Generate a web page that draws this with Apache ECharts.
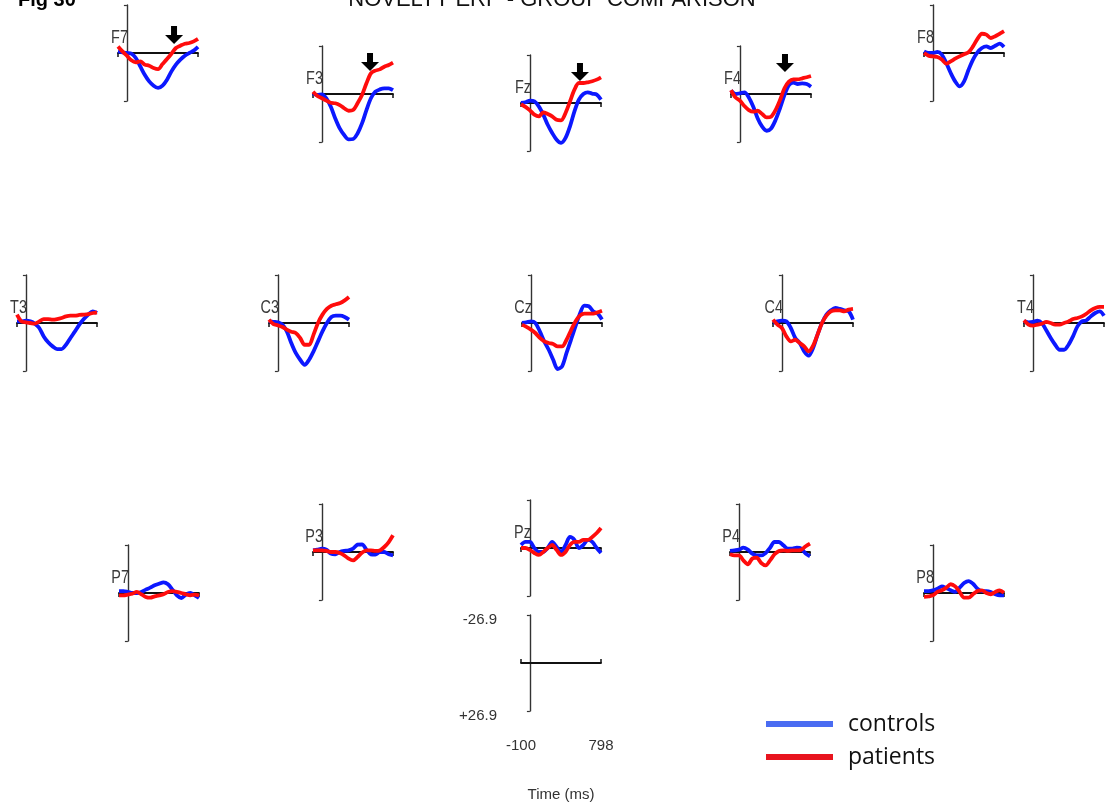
<!DOCTYPE html>
<html>
<head>
<meta charset="utf-8">
<script src="https://cdn.jsdelivr.net/npm/echarts@6/dist/echarts.min.js"></script>
<style>
  html, body { margin: 0; padding: 0; background: #ffffff; }
  #chart { width: 1114px; height: 811px; }
</style>
</head>
<body>
<div id="chart"></div>
<script>
// Sample times (ms) of every averaged waveform
const times = [-100, -50, 0, 50, 100, 150, 200, 250, 300, 350, 400, 450, 500, 550, 600, 650, 700, 750, 798];

// Group names
const groupNames = ['controls', 'patients'];

// Electrode order
const electrodes = ['F7', 'F3', 'Fz', 'F4', 'F8', 'T3', 'C3', 'Cz', 'C4', 'T4', 'P7', 'P3', 'Pz', 'P4', 'P8'];

// Amplitudes in microvolts (negative drawn upward)
const controlsF7 = [-0.9, -0.4, 0, 0.4, 2.8, 7.5, 12.2, 15.9, 18.3, 19.6, 18.3, 15.0, 10.3, 6.5, 3.7, 1.5, 0, -1.3, -3.4];
const patientsF7 = [-3.7, -0.9, 1.5, 4.1, 5.2, 4.7, 6.5, 7.1, 8.4, 9.0, 6.2, 3.4, 0.4, -2.8, -4.1, -5.2, -5.6, -6.5, -7.9];
const controlsF3 = [-0.4, 0.6, 0.2, 2.4, 7.1, 13.7, 19.3, 23.0, 25.4, 25.2, 22.1, 16.5, 9.0, 2.4, -1.3, -2.6, -3.2, -3.2, -2.2];
const patientsF3 = [-1.3, 1.1, 2.4, 3.7, 4.9, 5.2, 6.2, 8.0, 9.4, 9.0, 5.2, 0.6, -6.0, -11.6, -13.1, -13.8, -15.3, -16.3, -17.6];
const controlsFz = [0, -0.4, -1.3, -0.9, 1.9, 6.5, 12.2, 16.8, 20.6, 22.4, 19.6, 13.1, 4.7, -1.9, -5.0, -6.0, -5.2, -4.7, -1.9];
const patientsFz = [0.6, 2.2, 4.1, 6.5, 7.5, 5.2, 6.2, 7.5, 9.4, 9.7, 5.6, -0.9, -7.5, -11.2, -11.2, -11.6, -12.2, -13.1, -14.4];
const controlsF4 = [-1.9, 0, -0.4, -0.9, 1.9, 7.1, 13.7, 18.3, 20.6, 19.3, 14.6, 8.0, 0.6, -5.0, -6.4, -5.6, -6.0, -5.6, -4.1];
const patientsF4 = [-2.2, 1.9, 3.7, 6.7, 9.0, 9.9, 9.4, 11.2, 13.1, 12.7, 9.0, 3.4, -3.2, -6.9, -8.2, -8.2, -8.8, -9.4, -10.1];
const controlsF8 = [-0.9, 0, 0, -0.6, 0.9, 5.6, 11.2, 15.9, 18.7, 15.9, 9.4, 3.7, -0.4, -2.8, -3.7, -2.8, -4.1, -5.2, -3.4];
const patientsF8 = [0, 1.5, 1.9, 2.2, 3.7, 6.0, 4.7, 3.2, 1.9, 0.7, -0.4, -3.7, -7.9, -10.8, -10.3, -8.4, -9.4, -10.8, -12.2];
const controlsT3 = [-0.9, -0.9, -1.3, -0.9, 0.4, 2.8, 7.5, 10.8, 13.1, 14.6, 14.6, 12.2, 8.4, 4.7, 0.9, -2.2, -4.7, -6.5, -5.6];
const patientsT3 = [-4.7, -0.9, -0.4, 0, 0.4, -0.9, -2.2, -2.2, -1.9, -2.2, -2.8, -3.7, -4.1, -4.1, -4.5, -4.7, -5.0, -5.6, -6.0];
const controlsC3 = [-0.9, -0.6, -0.4, 0.9, 4.7, 11.2, 16.8, 20.6, 23.4, 20.6, 15.9, 10.3, 4.7, 0, -3.4, -4.1, -4.1, -3.4, -1.9];
const patientsC3 = [-1.9, 0.6, 1.3, 2.2, 3.7, 4.9, 5.6, 8.4, 12.2, 12.2, 6.5, 0, -4.7, -7.9, -9.7, -10.5, -11.2, -12.7, -14.6];
const controlsCz = [0, -0.4, -0.9, 0, 4.7, 10.3, 15.0, 20.6, 25.8, 24.3, 16.8, 9.4, 1.9, -5.2, -9.7, -9.4, -6.5, -5.2, -1.9];
const patientsCz = [0.9, 2.2, 3.7, 5.6, 8.4, 10.3, 11.2, 11.8, 13.1, 13.1, 9.4, 4.1, -0.9, -4.1, -5.2, -5.2, -5.2, -6.0, -6.9];
const controlsC4 = [0, -0.9, -1.3, -0.9, 2.8, 8.4, 11.2, 15.9, 18.3, 14.0, 6.5, 0, -4.7, -7.1, -8.4, -7.9, -7.1, -6.5, -1.9];
const patientsC4 = [-1.9, 0.9, 2.8, 7.5, 10.3, 9.4, 11.2, 13.1, 15.9, 12.7, 6.5, 0, -4.1, -6.5, -7.1, -7.1, -6.5, -7.5, -7.9];
const controlsT4 = [-0.9, -0.4, -0.6, -1.3, 0, 4.1, 8.4, 12.2, 15.0, 15.0, 12.2, 7.5, 1.9, -0.9, -1.5, -3.7, -5.6, -6.5, -4.1];
const patientsT4 = [-1.5, 0.9, 1.5, 0.9, 0.4, -0.6, 0, 0.9, 0.9, 0, -0.9, -2.2, -2.8, -3.7, -5.2, -7.1, -8.4, -9.0, -9.0];
const controlsP7 = [-1.1, -1.1, -0.6, 0, 0, -0.6, -1.9, -3.0, -4.3, -5.2, -6.0, -4.9, -1.9, 1.3, 2.8, 0.9, 0, 1.3, 2.8];
const patientsP7 = [1.3, 1.3, 0.9, 0.4, -0.6, 0.7, 2.2, 2.6, 1.9, 1.3, 0.7, -0.6, -1.1, -0.6, 0, 0.7, 1.3, 0.9, 1.3];
const controlsP3 = [-0.9, -1.3, -1.9, -1.3, 0.9, 1.3, 0, -0.6, -0.9, -1.9, -4.1, -4.3, -1.3, 1.3, 1.5, 0, 0, 1.3, 1.9];
const patientsP3 = [-0.9, -0.9, -0.9, -0.6, 0, 0, 0.6, 1.9, 3.7, 4.7, 2.8, 0.4, -0.9, -0.9, -0.6, -0.9, -2.8, -5.6, -9.4];
const controlsPz = [-1.7, -3.4, -3.4, 0, 2.2, 2.2, 0, -3.4, -0.6, 2.2, -1.7, -6.2, -4.5, 0, -1.7, -4.5, -3.4, 0, 2.8];
const patientsPz = [0, 0, 1.1, 2.8, 3.9, 2.2, 0, -1.7, 1.1, 3.9, 2.2, -1.7, -3.4, -3.4, -4.5, -4.5, -6.2, -8.4, -11.2];
const controlsP4 = [-0.6, -0.9, -1.3, -2.4, -1.3, 0.9, 1.9, 1.9, 0.6, -2.4, -5.6, -5.6, -3.7, -1.9, -1.9, -2.4, -1.9, 0.9, 2.4];
const patientsP4 = [1.3, 1.9, 1.9, 4.7, 6.9, 3.7, 3.2, 6.2, 7.5, 4.7, 1.3, -0.6, -0.9, -0.6, -0.9, -0.9, -1.3, -3.2, -4.7];
const controlsP8 = [-1.1, -1.1, -1.5, -2.4, -3.7, -2.8, -1.5, -0.6, -3.0, -5.6, -6.7, -5.2, -2.4, -1.1, -1.1, -0.6, 0.7, 1.3, 1.3];
const patientsP8 = [2.2, 1.9, 1.3, -0.6, -1.5, -3.0, -4.9, -3.7, -0.6, 2.6, 2.6, 0.7, -1.1, -1.5, 0, 0.7, -0.6, -1.5, -0.2];

// Arrow markers: electrode, time (ms), amplitude at the arrow tip (µV)
const arrowMarks = [['F7', 529, -5.0], ['F3', 540, -12.9], ['Fz', 562, -12.3], ['F4', 506, -12.3]];

// Scale panel tick labels
const scaleTimeTicks = [-100, 798];
const scaleAmpTicks = [-26.9, 26.9];

const waveforms = {
  F7: [controlsF7, patientsF7], F3: [controlsF3, patientsF3], Fz: [controlsFz, patientsFz],
  F4: [controlsF4, patientsF4], F8: [controlsF8, patientsF8], T3: [controlsT3, patientsT3],
  C3: [controlsC3, patientsC3], Cz: [controlsCz, patientsCz], C4: [controlsC4, patientsC4],
  T4: [controlsT4, patientsT4], P7: [controlsP7, patientsP7], P3: [controlsP3, patientsP3],
  Pz: [controlsPz, patientsPz], P4: [controlsP4, patientsP4], P8: [controlsP8, patientsP8]
};

// Panel placement on the scalp map: left edge (x of -100 ms) and y of the zero line
const panelLayout = {
  F7: [118, 53], F3: [313, 94], Fz: [521, 103], F4: [731, 94], F8: [924, 53],
  T3: [17, 323], C3: [269, 323], Cz: [522, 323], C4: [773, 323], T4: [1024, 323],
  P7: [119, 593], P3: [313, 552], Pz: [521, 548], P4: [730, 552], P8: [924, 593]
};
const scaleLayout = [521, 663];

const PANEL_W = 80, HALF_H = 48;
const T_MIN = -100, T_MAX = 798, V_LIM = 26.9;
const lineColors = ['#0c18ff', '#ff0c0c'];
const legendColors = ['#4a6cf2', '#e8141e'];
const sansFont = '"Liberation Sans", Arial, sans-serif';

const grids = [], xAxes = [], yAxes = [], series = [], graphics = [];

function addPanel(left, zeroY) {
  const idx = grids.length;
  grids.push({ left: left, top: zeroY - HALF_H, width: PANEL_W, height: HALF_H * 2 });
  xAxes.push({
    type: 'value', gridIndex: idx, min: T_MIN, max: T_MAX, position: 'bottom',
    axisLine: { show: true, onZero: true, lineStyle: { color: '#111', width: 1.8 } },
    axisTick: { show: true, customValues: [T_MIN, T_MAX], length: 4, inside: false, lineStyle: { color: '#111', width: 1.5 } },
    axisLabel: { show: false }, splitLine: { show: false }
  });
  yAxes.push({
    type: 'value', gridIndex: idx, min: -V_LIM, max: V_LIM, inverse: true,
    axisLine: { show: true, onZero: true, lineStyle: { color: '#333', width: 1.4 } },
    axisTick: { show: true, customValues: [-V_LIM, V_LIM], length: 3, lineStyle: { color: '#333', width: 1.2 } },
    axisLabel: { show: false }, splitLine: { show: false }
  });
  return idx;
}

electrodes.forEach(function (name) {
  const [left, zeroY] = panelLayout[name];
  const idx = addPanel(left, zeroY);
  waveforms[name].forEach(function (values, g) {
    const s = {
      type: 'line', name: groupNames[g], xAxisIndex: idx, yAxisIndex: idx,
      data: times.map(function (t, k) { return [t, values[k]]; }),
      showSymbol: false, smooth: 0.3, silent: true, animation: false, z: 3 + g,
      lineStyle: { width: 3.8, color: lineColors[g] }, itemStyle: { color: lineColors[g] }
    };
    if (g === 1) {
      const marks = arrowMarks.filter(function (a) { return a[0] === name; });
      if (marks.length) {
        s.markPoint = {
          silent: true, animation: false,
          symbol: 'path://M6,0 L12,0 L12,9 L18,9 L9,18 L0,9 L6,9 Z',
          symbolSize: [18, 18], symbolOffset: [0, '-50%'],
          itemStyle: { color: '#000' }, label: { show: false },
          data: marks.map(function (a) { return { coord: [a[1], a[2]] }; })
        };
      }
    }
    series.push(s);
  });
  // electrode name in a condensed face, right-aligned on the amplitude axis above the zero line
  graphics.push({
    type: 'text', x: left + (0 - T_MIN) / (T_MAX - T_MIN) * PANEL_W + 1, y: zeroY - 6, scaleX: 0.8,
    style: { text: name, align: 'right', verticalAlign: 'bottom', fill: '#3a3a3a', font: '18px ' + sansFont }
  });
});

// Calibration panel with amplitude and time scale labels
(function () {
  const [left, zeroY] = scaleLayout;
  const idx = addPanel(left, zeroY);
  xAxes[idx].position = 'top';
  yAxes[idx].axisLabel = {
    show: true, customValues: scaleAmpTicks, margin: 24, color: '#333', fontSize: 15, fontFamily: sansFont,
    formatter: function (v) { return '{v|' + (v > 0 ? '+' : '') + v.toFixed(1) + '}'; },
    rich: { v: { color: '#333', fontSize: 15, fontFamily: sansFont, padding: [10, 0, 0, 0] } }
  };
  xAxes.push({
    type: 'value', gridIndex: idx, min: T_MIN, max: T_MAX, position: 'bottom',
    axisLine: { show: false, onZero: false }, axisTick: { show: false }, splitLine: { show: false },
    axisLabel: { show: true, customValues: scaleTimeTicks, margin: 27, color: '#333', fontSize: 15, fontFamily: sansFont },
    name: 'Time (ms)', nameLocation: 'middle', nameGap: 76,
    nameTextStyle: { color: '#333', fontSize: 15, fontFamily: sansFont }
  });
})();

graphics.push({
  type: 'text', x: 18, y: 0,
  style: { text: 'Fig 30', align: 'left', verticalAlign: 'middle', fill: '#000', font: 'bold 20px ' + sansFont }
});
graphics.push({
  type: 'text', x: 552, y: 0,
  style: { text: 'NOVELTY ERP - GROUP COMPARISON', align: 'center', verticalAlign: 'middle', fill: '#111', font: '22px ' + sansFont }
});

const chart = echarts.init(document.getElementById('chart'), null, { renderer: 'canvas' });
chart.setOption({
  backgroundColor: '#ffffff',
  animation: false,
  grid: grids,
  xAxis: xAxes,
  yAxis: yAxes,
  series: series,
  graphic: graphics,
  legend: {
    orient: 'vertical', left: 766, top: 711, padding: 0, itemWidth: 67, itemHeight: 6, itemGap: 7,
    icon: 'rect', selectedMode: false,
    textStyle: { fontSize: 23, color: '#111', lineHeight: 26, padding: [0, 0, 0, 10], fontFamily: '"Open Sans", "Liberation Sans", sans-serif' },
    data: groupNames.map(function (n, g) { return { name: n, itemStyle: { color: legendColors[g] } }; })
  }
});
</script>
</body>
</html>
